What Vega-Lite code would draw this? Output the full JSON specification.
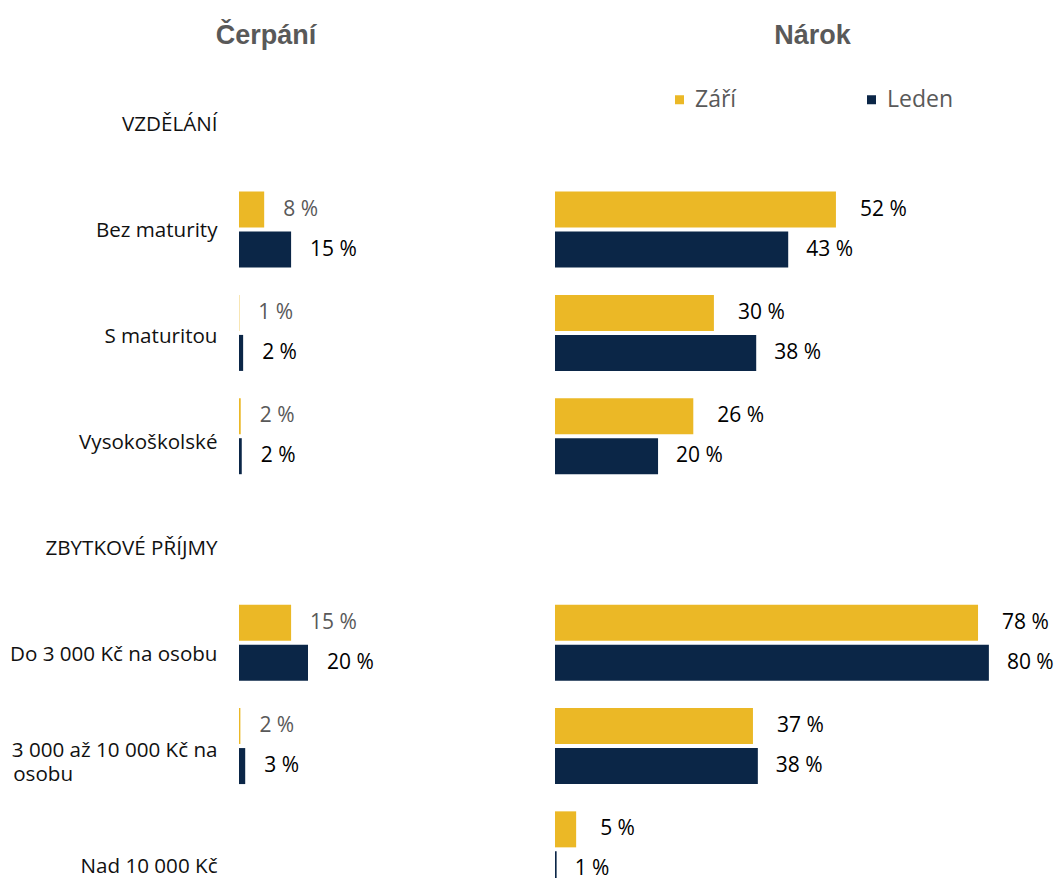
{
  "$schema": "https://vega.github.io/schema/vega-lite/v6.json",
  "padding": {"left": 9, "top": 22, "right": 0, "bottom": 0},
  "config": {"view": {"stroke": null}, "font": "Open Sans", "concat": {"spacing": 40}},
  "datasets": {
    "rows": [
      {"row": "VZDĚLÁNÍ"}, {"row": "Bez maturity"}, {"row": "S maturitou"}, {"row": "Vysokoškolské"},
      {"row": "ZBYTKOVÉ PŘÍJMY"}, {"row": "Do 3 000 Kč na osobu"}, {"row": "3 000 až 10 000 Kč na osobu"}, {"row": "Nad 10 000 Kč"}
    ],
    "cerpani": [
      {"row": "Bez maturity", "period": "Září", "value": 7.3, "label": "8 %"},
      {"row": "Bez maturity", "period": "Leden", "value": 15.1, "label": "15 %"},
      {"row": "S maturitou", "period": "Září", "value": 0.1, "label": "1 %"},
      {"row": "S maturitou", "period": "Leden", "value": 1.2, "label": "2 %"},
      {"row": "Vysokoškolské", "period": "Září", "value": 0.5, "label": "2 %"},
      {"row": "Vysokoškolské", "period": "Leden", "value": 0.8, "label": "2 %"},
      {"row": "Do 3 000 Kč na osobu", "period": "Září", "value": 15.1, "label": "15 %"},
      {"row": "Do 3 000 Kč na osobu", "period": "Leden", "value": 20, "label": "20 %"},
      {"row": "3 000 až 10 000 Kč na osobu", "period": "Září", "value": 0.4, "label": "2 %"},
      {"row": "3 000 až 10 000 Kč na osobu", "period": "Leden", "value": 1.8, "label": "3 %"}
    ],
    "narok": [
      {"row": "Bez maturity", "period": "Září", "value": 51.8, "label": "52 %"},
      {"row": "Bez maturity", "period": "Leden", "value": 43, "label": "43 %"},
      {"row": "S maturitou", "period": "Září", "value": 29.3, "label": "30 %"},
      {"row": "S maturitou", "period": "Leden", "value": 37.1, "label": "38 %"},
      {"row": "Vysokoškolské", "period": "Září", "value": 25.5, "label": "26 %"},
      {"row": "Vysokoškolské", "period": "Leden", "value": 19, "label": "20 %"},
      {"row": "Do 3 000 Kč na osobu", "period": "Září", "value": 78, "label": "78 %"},
      {"row": "Do 3 000 Kč na osobu", "period": "Leden", "value": 80, "label": "80 %"},
      {"row": "3 000 až 10 000 Kč na osobu", "period": "Září", "value": 36.5, "label": "37 %"},
      {"row": "3 000 až 10 000 Kč na osobu", "period": "Leden", "value": 37.4, "label": "38 %"},
      {"row": "Nad 10 000 Kč", "period": "Září", "value": 3.9, "label": "5 %"},
      {"row": "Nad 10 000 Kč", "period": "Leden", "value": 0.3, "label": "1 %"}
    ]
  },
  "hconcat": [
    {
      "width": 276,
      "height": 848,
      "title": {"text": "Čerpání", "font": "Liberation Sans", "fontSize": 27, "fontWeight": "bold", "color": "#595959", "dx": -111, "offset": 0, "baseline": "alphabetic"},
      "layer": [
        {
          "data": {"name": "cerpani"},
          "encoding": {
            "y": {
              "field": "row", "type": "nominal", "title": null, "axis": null,
              "scale": {"domain": ["VZDĚLÁNÍ", "Bez maturity", "S maturitou", "Vysokoškolské", "ZBYTKOVÉ PŘÍJMY", "Do 3 000 Kč na osobu", "3 000 až 10 000 Kč na osobu", "Nad 10 000 Kč"], "paddingInner": 0, "paddingOuter": 0.105, "align": 0.17}
            },
            "yOffset": {"field": "period", "type": "nominal", "scale": {"domain": ["Září", "Leden"], "paddingInner": 0.1, "paddingOuter": 0.341}},
            "x": {"field": "value", "type": "quantitative", "scale": {"domain": [0, 80]}, "axis": null}
          },
          "layer": [
            {
              "mark": {"type": "bar"},
              "encoding": {
                "color": {
                  "field": "period", "type": "nominal",
                  "scale": {"domain": ["Září", "Leden"], "range": ["#EBB826", "#0B2647"]},
                  "legend": {
                    "title": null, "orient": "none", "legendX": 429, "legendY": 17,
                    "direction": "horizontal", "symbolType": "square", "symbolSize": 81,
                    "symbolStrokeWidth": 0, "labelFont": "Open Sans", "labelFontSize": 23,
                    "labelColor": "#595959", "labelOffset": 4, "columnPadding": 123
                  }
                }
              }
            },
            {
              "mark": {"type": "text", "align": "left", "baseline": "middle", "dx": 19, "fontSize": 21, "font": "Open Sans"},
              "encoding": {
                "text": {"field": "label", "type": "nominal"},
                "color": {"condition": {"test": "datum.period === 'Září'", "value": "#595959"}, "value": "#000000"}
              }
            }
          ]
        },
        {
          "data": {"name": "rows"},
          "mark": {"type": "text", "text": ""},
          "encoding": {
            "y": {
              "field": "row", "type": "nominal", "title": null,
              "scale": {"domain": ["VZDĚLÁNÍ", "Bez maturity", "S maturitou", "Vysokoškolské", "ZBYTKOVÉ PŘÍJMY", "Do 3 000 Kč na osobu", "3 000 až 10 000 Kč na osobu", "Nad 10 000 Kč"], "paddingInner": 0, "paddingOuter": 0},
              "axis": {
                "orient": "left", "domain": false, "ticks": false, "grid": false,
                "labelFont": "Open Sans", "labelFontSize": 20.6, "labelColor": "#111111",
                "labelPadding": 22, "labelLimit": 400, "labelLineHeight": 24,
                "labelOffset": {"condition": {"test": "datum.value == '3 000 až 10 000 Kč na osobu'", "value": -10}, "value": 0},
                "labelExpr": "datum.value == '3 000 až 10 000 Kč na osobu' ? ['3 000 až 10 000 Kč na', 'osobu\u00a0\u00a0\u00a0\u00a0\u00a0\u00a0\u00a0\u00a0\u00a0\u00a0\u00a0\u00a0\u00a0\u00a0\u00a0\u00a0\u00a0\u00a0\u00a0\u00a0\u00a0\u00a0\u00a0\u00a0\u00a0\u00a0\u00a0\u200b'] : datum.value"
              }
            }
          }
        }
      ],
      "resolve": {"scale": {"y": "independent"}, "axis": {"y": "independent"}}
    },
    {
      "width": 461,
      "height": 848,
      "title": {"text": "Nárok", "font": "Liberation Sans", "fontSize": 27, "fontWeight": "bold", "color": "#595959", "dx": 27, "offset": 0, "baseline": "alphabetic"},
      "data": {"name": "narok"},
      "encoding": {
        "y": {
          "field": "row", "type": "nominal", "title": null, "axis": null,
          "scale": {"domain": ["VZDĚLÁNÍ", "Bez maturity", "S maturitou", "Vysokoškolské", "ZBYTKOVÉ PŘÍJMY", "Do 3 000 Kč na osobu", "3 000 až 10 000 Kč na osobu", "Nad 10 000 Kč"], "paddingInner": 0, "paddingOuter": 0.105, "align": 0.17}
        },
        "yOffset": {"field": "period", "type": "nominal", "scale": {"domain": ["Září", "Leden"], "paddingInner": 0.1, "paddingOuter": 0.341}},
        "x": {"field": "value", "type": "quantitative", "scale": {"domain": [0, 85]}, "axis": null}
      },
      "layer": [
        {
          "mark": {"type": "bar"},
          "encoding": {
            "color": {
              "field": "period", "type": "nominal",
              "scale": {"domain": ["Září", "Leden"], "range": ["#EBB826", "#0B2647"]},
              "legend": {
                "title": null, "orient": "none", "legendX": 429, "legendY": 17,
                "direction": "horizontal", "symbolType": "square", "symbolSize": 81,
                "symbolStrokeWidth": 0, "labelFont": "Open Sans", "labelFontSize": 23,
                "labelColor": "#595959", "labelOffset": 4, "columnPadding": 123
              }
            }
          }
        },
        {
          "transform": [{"filter": "datum.period === 'Září'"}],
          "mark": {"type": "text", "align": "left", "baseline": "middle", "dx": 24, "fontSize": 21, "font": "Open Sans", "color": "#000000"},
          "encoding": {"text": {"field": "label", "type": "nominal"}}
        },
        {
          "transform": [{"filter": "datum.period === 'Leden'"}],
          "mark": {"type": "text", "align": "left", "baseline": "middle", "dx": 18, "fontSize": 21, "font": "Open Sans", "color": "#000000"},
          "encoding": {"text": {"field": "label", "type": "nominal"}}
        }
      ]
    }
  ]
}
